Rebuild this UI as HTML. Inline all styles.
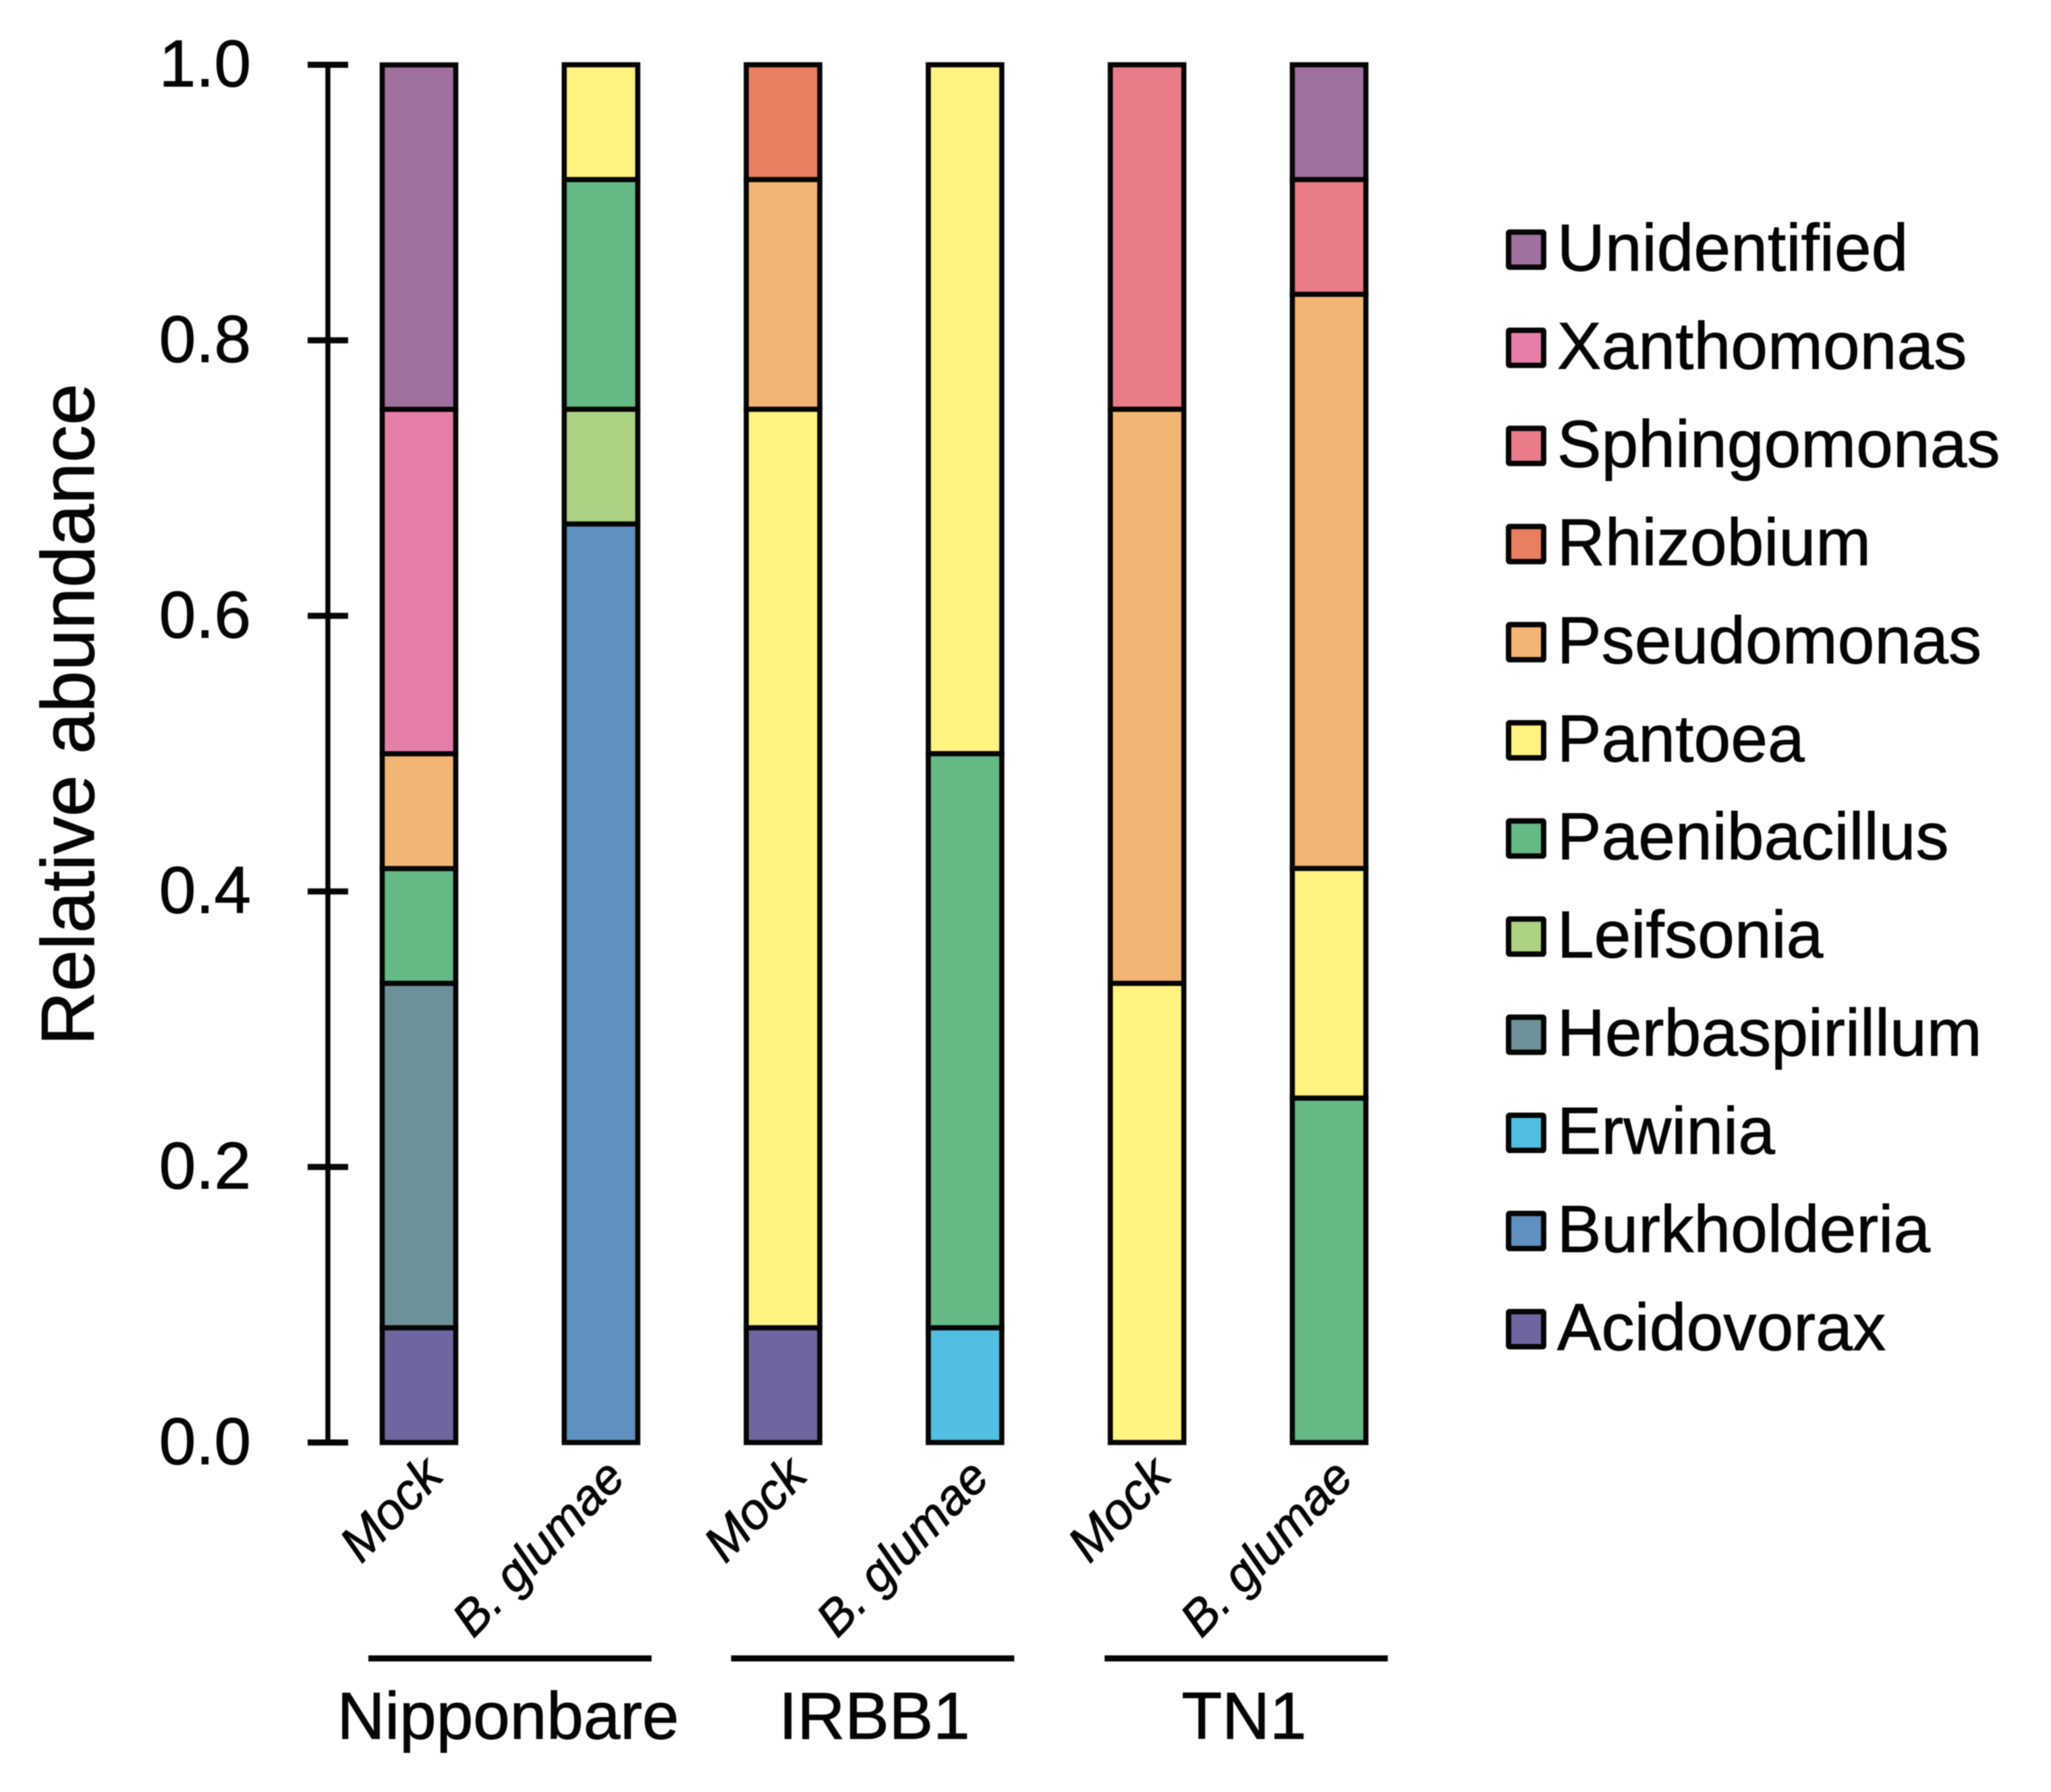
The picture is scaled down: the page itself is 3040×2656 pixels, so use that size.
<!DOCTYPE html>
<html lang="en">
<head>
<meta charset="utf-8">
<title>Relative abundance</title>
<style>
html,body{margin:0;padding:0;background:#fff;width:3040px;height:2656px;overflow:hidden}
svg{display:block;filter:blur(0.8px)}
text{font-family:"Liberation Sans",Arial,sans-serif;fill:#050505;stroke:#050505;stroke-width:1px}
</style>
</head>
<body>
<svg id="chart" xmlns="http://www.w3.org/2000/svg" width="3040" height="2656" viewBox="0 0 3040 2656">
<rect x="0" y="0" width="3040" height="2656" fill="#ffffff"/>
<text transform="translate(139,1059) rotate(-90)" text-anchor="middle" font-size="111">Relative abundance</text>
</svg>
<script>
const samples = ["Mock", "B. glumae", "Mock", "B. glumae", "Mock", "B. glumae"];
const groups = ["Nipponbare", "IRBB1", "TN1"];
const yTicks = [0, 0.2, 0.4, 0.6, 0.8, 1.0];
const yTickLabels = ["0.0", "0.2", "0.4", "0.6", "0.8", "1.0"];

const acidovorax     = [0.0833, 0, 0.0833, 0, 0, 0];
const burkholderia   = [0, 0.6667, 0, 0, 0, 0];
const erwinia        = [0, 0, 0, 0.0833, 0, 0];
const herbaspirillum = [0.25, 0, 0, 0, 0, 0];
const leifsonia      = [0, 0.0833, 0, 0, 0, 0];
const paenibacillus  = [0.0833, 0.1667, 0, 0.4167, 0, 0.25];
const pantoea        = [0, 0.0833, 0.6667, 0.5, 0.3333, 0.1667];
const pseudomonas    = [0.0833, 0, 0.1667, 0, 0.4167, 0.4167];
const rhizobium      = [0, 0, 0.0833, 0, 0, 0];
const sphingomonas   = [0, 0, 0, 0, 0.25, 0.0833];
const xanthomonas    = [0.25, 0, 0, 0, 0, 0];
const unidentified   = [0.25, 0, 0, 0, 0, 0.0833];

const seriesNames = ["Acidovorax", "Burkholderia", "Erwinia", "Herbaspirillum", "Leifsonia", "Paenibacillus", "Pantoea", "Pseudomonas", "Rhizobium", "Sphingomonas", "Xanthomonas", "Unidentified"];
const seriesValues = [acidovorax, burkholderia, erwinia, herbaspirillum, leifsonia, paenibacillus, pantoea, pseudomonas, rhizobium, sphingomonas, xanthomonas, unidentified];
const seriesColors = ["#6D669F", "#6090C0", "#51BEE2", "#6D9198", "#AED283", "#64B985", "#FFF382", "#F3B574", "#E97E60", "#E97C88", "#E57EA8", "#A0709E"];

const svg = document.getElementById('chart');
const NS = 'http://www.w3.org/2000/svg';
function make(tag, attrs, text) {
  const node = document.createElementNS(NS, tag);
  for (const k in attrs) node.setAttribute(k, attrs[k]);
  if (text !== undefined) node.textContent = text;
  svg.appendChild(node);
  return node;
}
function slug(s) { return s.toLowerCase().replace(/[^a-z0-9]+/g, '-'); }

// axis functions
function yScale(v) { return 2138 - v * 2042; }
function xScale(i) { return 621 + i * 269.8; }
const barWidth = 109;
const stroke = 7.6;

// y axis
{
  const el = make('line', {x1: 486, x2: 486, y1: yScale(1), y2: yScale(0), stroke: '#050505', 'stroke-width': 7.5});
  
  
}
yTicks.forEach(function (t, i) {
  const tick = make('line', {x1: 456, x2: 516, y1: yScale(t), y2: yScale(t), stroke: '#050505', 'stroke-width': 9});
  
  
  const label = make('text', {x: 372, y: yScale(t) + 32, 'text-anchor': 'end', 'font-size': 98}, yTickLabels[i]);
  
  
});

// stacked bars
samples.forEach(function (sample, i) {
  let cum = 0;
  seriesValues.forEach(function (vals, s) {
    const v = vals[i];
    if (!v) return;
    const yTop = yScale(cum + v);
    const yBot = yScale(cum);
    const seg = make('rect', {x: xScale(i) - barWidth / 2, y: yTop, width: barWidth, height: yBot - yTop, fill: seriesColors[s], stroke: '#050505', 'stroke-width': stroke});
    
    
    cum += v;
  });
  const isMock = sample === 'Mock';
  const x = xScale(i) + (isMock ? 39 : 39);
  const y = isMock ? 2190 : 2193;
  const lab = make('text', {transform: 'translate(' + x + ',' + y + ') rotate(-46)', 'text-anchor': 'end', 'font-size': isMock ? 75 : 73, 'font-style': 'italic'}, sample);
  
  
});

// group brackets and labels
const groupMembers = [[0, 1], [2, 3], [4, 5]];
const groupLineShift = [0, -2, 12];
const groupLabelCenter = [753, 1296, 1844];
groups.forEach(function (g, i) {
  const a = xScale(groupMembers[i][0]);
  const b = xScale(groupMembers[i][1]);
  const line = make('line', {x1: a - 75 + groupLineShift[i], x2: b + 75 + groupLineShift[i], y1: 2458, y2: 2458, stroke: '#050505', 'stroke-width': 9});
  
  
  const t = make('text', {x: groupLabelCenter[i], y: 2577, 'text-anchor': 'middle', 'font-size': 98}, g);
  
  
});

// legend (top to bottom is reverse of stacking order)
for (let s = seriesNames.length - 1; s >= 0; s--) {
  const row = seriesNames.length - 1 - s;
  const cy = 370 + row * 145.45;
  const sw = make('rect', {x: 2236, y: cy - 26, width: 52, height: 52, fill: seriesColors[s], stroke: '#050505', 'stroke-width': 8, rx: 1.5});
  
  
  const tx = make('text', {x: 2308, y: cy + 31, 'font-size': 98, 'letter-spacing': 0.25}, seriesNames[s]);
  
  
}
</script>
</body>
</html>
